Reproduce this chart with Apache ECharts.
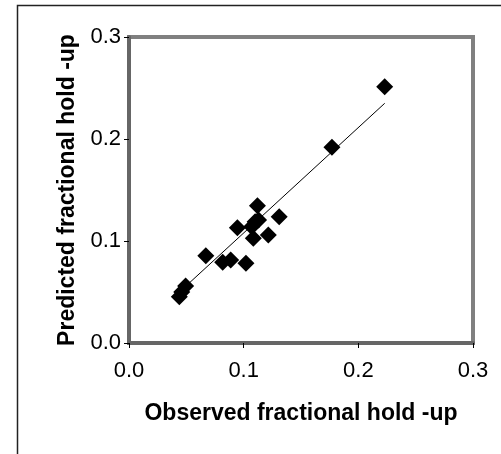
<!DOCTYPE html>
<html><head><meta charset="utf-8">
<script src="https://cdn.jsdelivr.net/npm/echarts@6/dist/echarts.min.js"></script>
<style>html,body{margin:0;padding:0;background:#fff}#c{width:501px;height:454px}</style>
</head><body><div id="c"></div>
<script>
var observed  = [0.223, 0.177, 0.112, 0.131, 0.0945, 0.110, 0.113, 0.107, 0.1084, 0.1215, 0.067, 0.0817, 0.0887, 0.102, 0.0494, 0.0439, 0.046];
var predicted = [0.2513, 0.1918, 0.1346, 0.1238, 0.1131, 0.1189, 0.1206, 0.114, 0.1026, 0.1059, 0.0856, 0.0791, 0.0814, 0.0781, 0.0559, 0.0454, 0.050];
var trendX = [0.044, 0.223];
var trendY = [0.050, 0.235];
var xTicks = [0, 0.1, 0.2, 0.3];
var yTicks = [0, 0.1, 0.2, 0.3];
var xTitle = 'Observed fractional hold -up';
var yTitle = 'Predicted fractional hold -up';

var pts = observed.map(function(v,i){return [v, predicted[i]];});
var trend = trendX.map(function(v,i){return [v, trendY[i]];});
var font = 'Liberation Sans, Arial, sans-serif';
var chart = echarts.init(document.getElementById('c'), null, {renderer:'canvas'});
chart.setOption({
  animation:false,
  backgroundColor:'#fff',
  graphic:[{type:'polyline', shape:{points:[[17.5,460],[17.5,5.5],[501,5.5]]}, style:{stroke:'#222', lineWidth:1.5, fill:null}, z:0}],
  grid:{left:129, top:37, width:344, height:306, show:true, borderColor:'#808080', borderWidth:4, backgroundColor:'#fff'},
  xAxis:{type:'value', min:0, max:0.3, interval:0.1,
    axisLine:{show:true, onZero:false, lineStyle:{color:'#666', width:4}},
    axisTick:{show:true, length:5, lineStyle:{color:'#000', width:1}},
    splitLine:{show:false},
    axisLabel:{margin:17, fontFamily:font, fontSize:22, color:'#000', formatter:function(v){return v.toFixed(1);}},
    name:xTitle, nameLocation:'middle', nameGap:59,
    nameTextStyle:{fontFamily:font, fontSize:23, fontWeight:'bold', color:'#000'}},
  yAxis:{type:'value', min:0, max:0.3, interval:0.1,
    axisLine:{show:true, onZero:false, lineStyle:{color:'#666', width:4}},
    axisTick:{show:true, length:5, lineStyle:{color:'#000', width:1}},
    splitLine:{show:false},
    axisLabel:{margin:8, fontFamily:font, fontSize:22, color:'#000', formatter:function(v){return v.toFixed(1);}},
    name:yTitle, nameLocation:'middle', nameGap:47, nameRotate:90,
    nameTextStyle:{fontFamily:font, fontSize:23, fontWeight:'bold', color:'#000'}},
  series:[
    {type:'line', data:trend, showSymbol:false, symbol:'none', lineStyle:{color:'#000', width:1}, z:2},
    {type:'scatter', data:pts, symbol:'diamond', symbolSize:17, itemStyle:{color:'#000', opacity:1}, z:3}
  ]
});
</script></body></html>
